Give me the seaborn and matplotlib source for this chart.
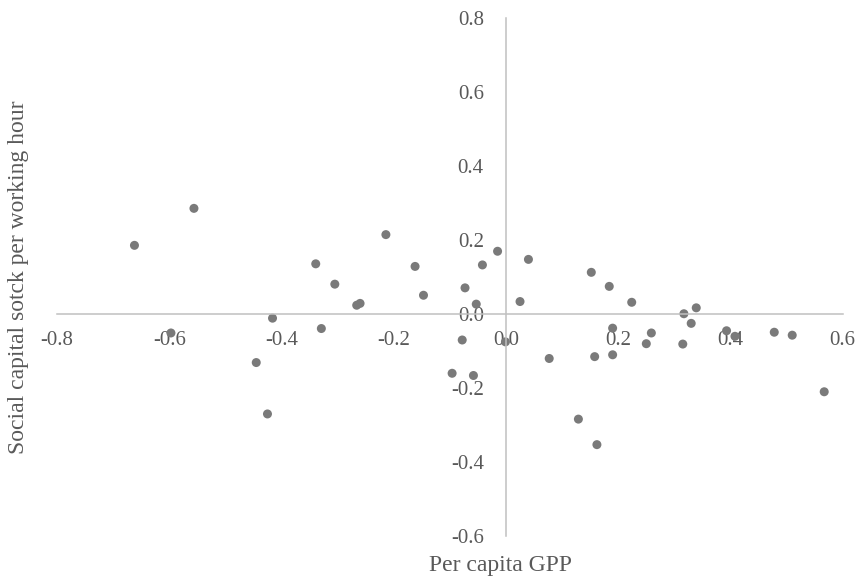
import matplotlib
matplotlib.use("Agg")
import matplotlib.pyplot as plt
import numpy as np
import pandas as pd
import seaborn as sns

# Per capita GPP (x) vs. social capital stock per working hour (y)
gpp = [-0.662, -0.556, -0.597, -0.416, -0.445, -0.425,
       -0.339, -0.305, -0.329, -0.266, -0.260, -0.214, -0.162, -0.147,
       -0.073, -0.053, -0.042, -0.078, -0.096, -0.058, -0.015,
       0.040, 0.025, -0.001, 0.077, 0.152, 0.184, 0.224, 0.190, 0.158,
       0.190, 0.129, 0.162, 0.259, 0.250,
       0.317, 0.339, 0.330, 0.315, 0.393, 0.408, 0.478, 0.510, 0.567]
social_capital = [0.186, 0.286, -0.051, -0.011, -0.131, -0.270,
                  0.136, 0.081, -0.039, 0.024, 0.029, 0.215, 0.129, 0.051,
                  0.071, 0.027, 0.133, -0.070, -0.160, -0.166, 0.170,
                  0.148, 0.034, -0.075, -0.120, 0.113, 0.075, 0.032, -0.038, -0.115,
                  -0.110, -0.284, -0.353, -0.051, -0.080,
                  0.001, 0.017, -0.025, -0.081, -0.045, -0.060, -0.049, -0.057, -0.210]

x_ticks = [-0.8, -0.6, -0.4, -0.2, 0.0, 0.2, 0.4, 0.6]
y_ticks = [-0.6, -0.4, -0.2, 0.0, 0.2, 0.4, 0.6, 0.8]

df = pd.DataFrame({"Per capita GPP": gpp,
                   "Social capital sotck per working hour": social_capital})

sns.set_style("white")
plt.rcParams["font.family"] = ["Liberation Serif", "DejaVu Serif"]

text_color = "#595959"
axis_color = "#c0c0c0"

fig = plt.figure(figsize=(8.56, 5.81), dpi=100)
ax = fig.add_axes([0.0666, 0.0775, 0.9179, 0.891])

sns.scatterplot(data=df, x="Per capita GPP",
                y="Social capital sotck per working hour",
                color="#7a7a7a", s=42, edgecolor="none", ax=ax)

ax.set_xlim(-0.8, 0.6)
ax.set_ylim(-0.6, 0.8)
ax.set_xticks(x_ticks)
ax.set_yticks(y_ticks)
ax.set_xticklabels([f"{v:.1f}" for v in x_ticks])
ax.set_yticklabels([f"{v:.1f}" for v in y_ticks])

# Axes cross at the origin
ax.spines["left"].set_position(("data", 0))
ax.spines["bottom"].set_position(("data", 0))
for side in ("top", "right"):
    ax.spines[side].set_visible(False)
for side in ("left", "bottom"):
    ax.spines[side].set_color(axis_color)
    ax.spines[side].set_linewidth(1.1)

ax.tick_params(axis="x", length=0, pad=12.5, labelsize=15, labelcolor=text_color)
ax.tick_params(axis="y", length=0, pad=16, labelsize=15, labelcolor=text_color)

ax.set_xlabel("Per capita GPP", fontsize=17, color=text_color, va="center")
ax.set_ylabel("Social capital sotck per working hour", fontsize=17,
              color=text_color, va="center")
ax.xaxis.set_label_coords(0.564, -0.058)
ax.yaxis.set_label_coords(-0.0496, 0.5)

fig.savefig("out.png", dpi=100, facecolor="white")
